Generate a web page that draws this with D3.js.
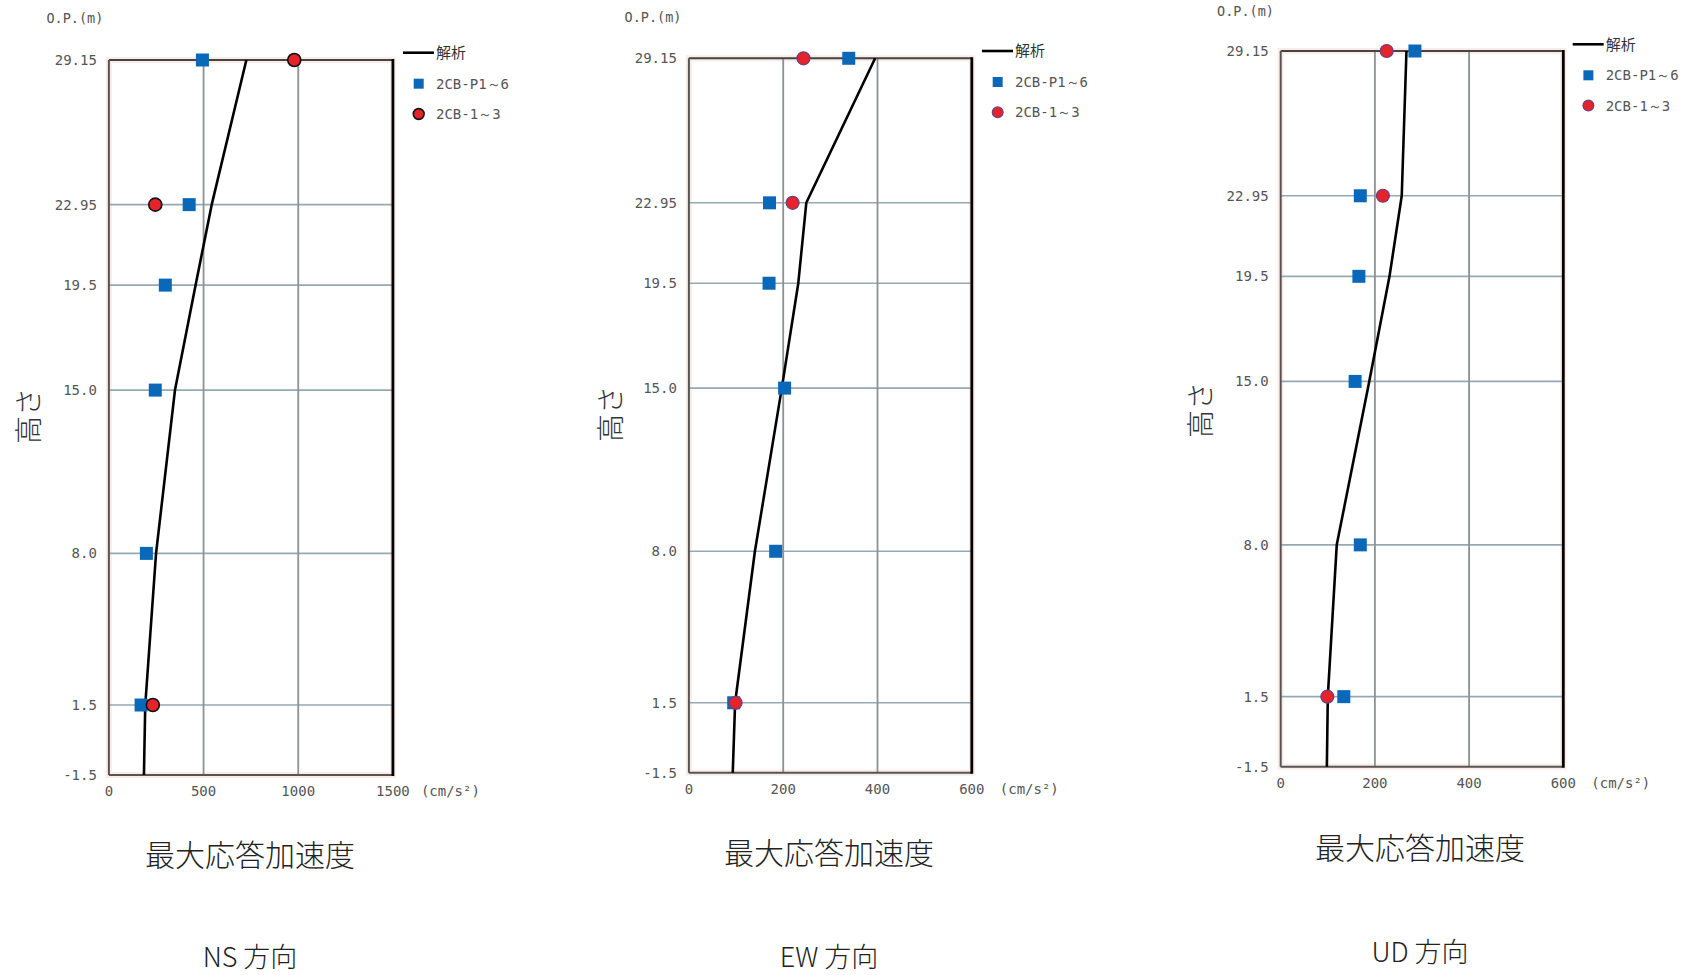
<!DOCTYPE html>
<html><head><meta charset="utf-8">
<script src="https://cdn.jsdelivr.net/npm/d3@7"></script>
<style>
html,body{margin:0;padding:0;background:#fff;}
svg{display:block;}
</style></head>
<body>
<svg id="chart" width="1686" height="975"></svg>
<script>
// ---------- DATA ----------
const yTicks = [29.15, 22.95, 19.5, 15.0, 8.0, 1.5, -1.5];
const yTickLabels = ["29.15", "22.95", "19.5", "15.0", "8.0", "1.5", "-1.5"];
const blueHeights = [29.15, 22.95, 19.5, 15.0, 8.0, 1.5];
const redHeights = [29.15, 22.95, 1.5];
const lineHeights = [29.15, 22.95, 19.5, 15.0, 8.0, 1.5, -1.5];

const nsXTicks = [0, 500, 1000, 1500];
const ewXTicks = [0, 200, 400, 600];
const udXTicks = [0, 200, 400, 600];

const nsBlue = [494, 424, 298, 245, 198, 170];
const nsRed = [979, 245, 232];
const nsLine = [726, 543, 458, 349, 249, 192, 185];

const ewBlue = [339, 171, 170, 203, 184, 95];
const ewRed = [243, 220, 99];
const ewLine = [395, 249, 232, 197, 140, 98, 93];

const udBlue = [285, 169, 166, 158, 169, 134];
const udRed = [225, 217, 99];
const udLine = [267, 257, 231, 188, 119, 100, 98];

const legendLabels = ["解析", "2CB-P1～6", "2CB-1～3"];
const yAxisTitle = "高さ";
const yUnit = "O.P.(m)";
const xUnit = "(cm/s²)";
const subtitle = "最大応答加速度";
const directionTitles = ["NS 方向", "EW 方向", "UD 方向"];

// ---------- LAYOUT ----------
const panels = [
  {ticks: nsXTicks, blue: nsBlue, red: nsRed, line: nsLine, title: directionTitles[0],
   left: 108.9, right: 392.9, top: 60, bottom: 775, circStroke: "#111", circSW: 1.6,
   opX: 46.4, opY: 18, legX: 403, legY: 52.7, ytX: 29, ytY: 416,
   subX: 250, subY: 855, dirX: 250, dirY: 957},
  {ticks: ewXTicks, blue: ewBlue, red: ewRed, line: ewLine, title: directionTitles[1],
   left: 688.9, right: 971.8, top: 58.3, bottom: 772.7, circStroke: "#6a3f86", circSW: 1.2,
   opX: 624.6, opY: 17, legX: 982, legY: 51, ytX: 611, ytY: 414,
   subX: 829, subY: 853, dirX: 829, dirY: 957},
  {ticks: udXTicks, blue: udBlue, red: udRed, line: udLine, title: directionTitles[2],
   left: 1280.7, right: 1563.3, top: 51, bottom: 766.7, circStroke: "#6a3f86", circSW: 1.2,
   opX: 1217, opY: 11, legX: 1572.7, legY: 44.3, ytX: 1201, ytY: 410,
   subX: 1420, subY: 848, dirX: 1420, dirY: 952}
];

const svg = d3.select("#chart");
const monoFont = "'DejaVu Sans Mono', 'Liberation Mono', monospace";
const cjkFont = "'Noto Sans CJK JP', 'Noto Sans', sans-serif";
const blue = "#0a68b8";
const red = "#e5232a";

panels.forEach(p => {
  const g = svg.append("g");
  const x = d3.scaleLinear().domain([p.ticks[0], p.ticks[p.ticks.length - 1]]).range([p.left, p.right]);
  const y = d3.scaleLinear().domain([-1.5, 29.15]).range([p.bottom, p.top]);

  // faint pinkish plot edge
  g.append("rect").attr("x", p.left).attr("y", p.top)
    .attr("width", p.right - p.left).attr("height", p.bottom - p.top)
    .attr("fill", "#fff").attr("stroke", "#fbece8").attr("stroke-width", 6);

  // horizontal grid
  g.selectAll(".hg").data(yTicks.slice(1, -1)).join("line")
    .attr("x1", p.left).attr("x2", p.right)
    .attr("y1", d => y(d)).attr("y2", d => y(d))
    .attr("stroke", "#95a9b3").attr("stroke-width", 1.6);
  // vertical grid
  g.selectAll(".vg").data(p.ticks.slice(1, -1)).join("line")
    .attr("y1", p.top).attr("y2", p.bottom)
    .attr("x1", d => x(d)).attr("x2", d => x(d))
    .attr("stroke", "#8d9296").attr("stroke-width", 1.8);

  // frame
  g.append("line").attr("x1", p.left).attr("x2", p.right).attr("y1", p.top).attr("y2", p.top)
    .attr("stroke", "#444").attr("stroke-width", 2);
  g.append("line").attr("x1", p.left).attr("x2", p.right).attr("y1", p.bottom).attr("y2", p.bottom)
    .attr("stroke", "#555").attr("stroke-width", 2);
  g.append("line").attr("x1", p.left).attr("x2", p.left).attr("y1", p.top).attr("y2", p.bottom)
    .attr("stroke", "#555").attr("stroke-width", 2);
  g.append("line").attr("x1", p.right).attr("x2", p.right).attr("y1", p.top - 1).attr("y2", p.bottom + 1)
    .attr("stroke", "#000").attr("stroke-width", 2.8);

  // y tick labels
  g.selectAll(".yl").data(yTicks).join("text")
    .attr("x", p.left - 12).attr("y", d => y(d))
    .attr("dy", "0.36em").attr("text-anchor", "end")
    .attr("font-family", monoFont).attr("font-size", 14).attr("fill", "#555")
    .text((d, i) => yTickLabels[i]);

  // x tick labels
  g.selectAll(".xl").data(p.ticks).join("text")
    .attr("x", d => x(d)).attr("y", p.bottom + 16)
    .attr("dy", "0.36em").attr("text-anchor", "middle")
    .attr("font-family", monoFont).attr("font-size", 14).attr("fill", "#555")
    .text(d => d);
  g.append("text").attr("x", p.right + 28).attr("y", p.bottom + 16).attr("dy", "0.36em")
    .attr("font-family", monoFont).attr("font-size", 14).attr("fill", "#555")
    .text(xUnit);

  // O.P.(m)
  g.append("text").attr("x", p.opX).attr("y", p.opY).attr("dy", "0.36em")
    .attr("font-family", monoFont).attr("font-size", 13.5).attr("fill", "#555")
    .text(yUnit);

  // y axis title
  g.append("text").attr("transform", `translate(${p.ytX},${p.ytY}) rotate(-90)`)
    .attr("text-anchor", "middle").attr("dy", "0.36em")
    .attr("font-family", cjkFont).attr("font-size", 28).attr("font-weight", 300).attr("fill", "#333")
    .text(yAxisTitle);

  // analysis line
  const lineGen = d3.line().x(d => x(d[0])).y(d => y(d[1]));
  g.append("path").datum(p.line.map((v, i) => [v, lineHeights[i]]))
    .attr("d", lineGen).attr("fill", "none").attr("stroke", "#000").attr("stroke-width", 2.6)
    .attr("stroke-linejoin", "round");

  // blue squares
  const s = 13;
  g.selectAll(".sq").data(p.blue.map((v, i) => [v, blueHeights[i]])).join("rect")
    .attr("x", d => x(d[0]) - s / 2).attr("y", d => y(d[1]) - s / 2)
    .attr("width", s).attr("height", s).attr("fill", blue);

  // red circles
  g.selectAll(".ci").data(p.red.map((v, i) => [v, redHeights[i]])).join("circle")
    .attr("cx", d => x(d[0])).attr("cy", d => y(d[1])).attr("r", 6.5)
    .attr("fill", red).attr("stroke", p.circStroke).attr("stroke-width", p.circSW);

  // legend
  const lg = g.append("g");
  lg.append("line").attr("x1", p.legX).attr("x2", p.legX + 31).attr("y1", p.legY).attr("y2", p.legY)
    .attr("stroke", "#000").attr("stroke-width", 2.6);
  lg.append("text").attr("x", p.legX + 33).attr("y", p.legY).attr("dy", "0.36em")
    .attr("font-family", cjkFont).attr("font-size", 15).attr("fill", "#333").text(legendLabels[0]);
  lg.append("rect").attr("x", p.legX + 15.7 - 5).attr("y", p.legY + 31 - 5).attr("width", 10).attr("height", 10)
    .attr("fill", blue);
  lg.append("text").attr("x", p.legX + 33).attr("y", p.legY + 31).attr("dy", "0.36em")
    .attr("font-family", monoFont).attr("font-size", 14).attr("fill", "#555").text(legendLabels[1]);
  lg.append("circle").attr("cx", p.legX + 15.7).attr("cy", p.legY + 61.3).attr("r", 5.4)
    .attr("fill", red).attr("stroke", p.circStroke).attr("stroke-width", p.circSW);
  lg.append("text").attr("x", p.legX + 33).attr("y", p.legY + 61.3).attr("dy", "0.36em")
    .attr("font-family", monoFont).attr("font-size", 14).attr("fill", "#555").text(legendLabels[2]);

  // subtitle + direction
  g.append("text").attr("x", p.subX).attr("y", p.subY).attr("dy", "0.36em").attr("text-anchor", "middle")
    .attr("font-family", cjkFont).attr("font-size", 30).attr("font-weight", 300).attr("fill", "#222")
    .text(subtitle);
  g.append("text").attr("x", p.dirX).attr("y", p.dirY).attr("dy", "0.36em").attr("text-anchor", "middle")
    .attr("font-family", cjkFont).attr("font-size", 27).attr("font-weight", 300).attr("fill", "#222")
    .text(p.title);
});
</script>
</body></html>
